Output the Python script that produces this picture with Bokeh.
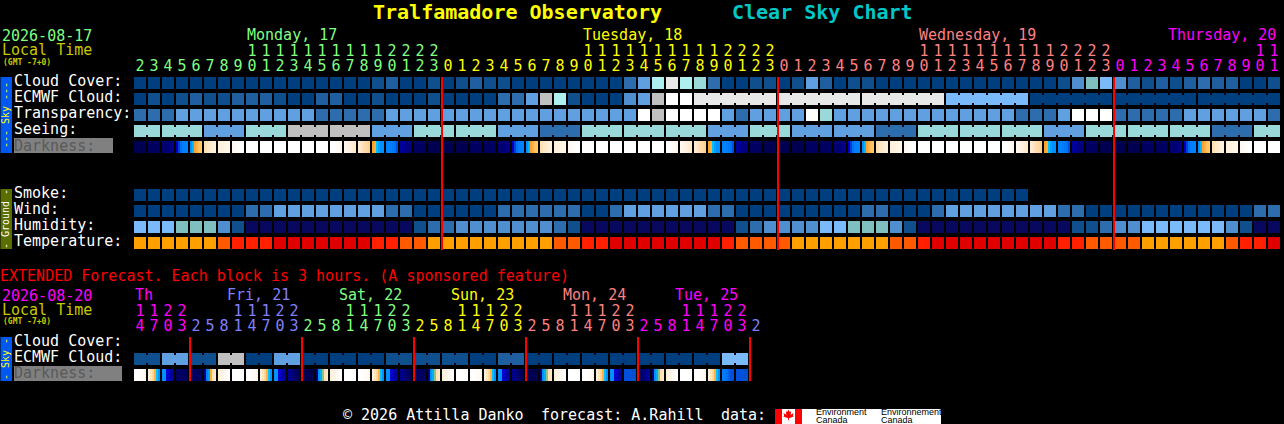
from math import pi
from bokeh.plotting import figure
from bokeh.models import Range1d
from bokeh.core.properties import value
from bokeh.embed import file_html
from bokeh.resources import INLINE

# ---------- chart values (palette classes) ----------
cloud = [0,0,0,0,0,0,0,0,0,0,0,0,0,0,0,0,0,1,2,0,0,1,
         0,1,2,1,1,0,0,0,0,0,0,0,0,3,5,9,11,9,8,3,0,0,1,1,0,1,5,2,0,1,
         1,0,0,0,0,0,0,0,0,0,0,0,0,0,1,4,7,6,4,2,1,2,1,2,3,2,2,0,0,1]
ecmwf = [0,1,0,1,2,1,1,2,2,2,1,0,0,2,2,0,0,1,0,0,0,1,
         0,0,0,0,3,3,5,10,9,1,0,0,0,4,5,10,12,12,
         11,11,11,11,11,11,11,11,11,11,11,11,11,11,11,11,11,11,
         6,6,6,6,6,6,0,0,0,0,0,0,0,0,0,0,0,0,0,0,0,0,0,0]
ecmwf_groups = [1,1,1,1,1,1,1,1,1,1,1,1,1,1,1,1,1,1,1,1,
                1,1,1,1,1,1,1,1,1,1,1,1,1,1,1,1,1,1,1,1,6,6,6,6,6,6,6]
transparency = [3,3,3,5,5,5,5,5,5,5,5,5,5,3,3,3,3,3,5,5,5,5,
                5,5,5,5,5,5,5,5,5,5,5,5,5,5,12,10,12,12,12,12,5,3,5,5,5,5,12,8,5,5,
                5,5,5,5,5,5,5,5,5,5,5,3,3,3,5,12,12,12,3,3,3,3,3,5,5,5,5,5,5,3]
seeing = [8,8,8,8,8,5,5,5,8,8,8,10,10,10,10,10,10,5,5,5,8,8,
          8,8,8,8,5,5,5,3,3,3,8,8,8,8,8,8,8,8,8,5,5,5,8,8,8,5,5,5,5,5,
          5,3,3,3,8,8,8,8,8,8,8,8,8,5,5,5,8,8,8,8,8,8,8,8,8,3,3,3,8,8]
seeing_groups = [2,3,3,3,3,3,3,3,3,3,3,3,3,3,3,3,3,3,3,3,3,3,3,3,3,3,3,2]
darkness = ("n a b c d e f g w w w w w w h j k l m o a n "
            "n n a a b c d e f g w w w w w w h j k l m o a n "
            "n n a a b c d e f g w w w w w w h j k l m o a n "
            "n n a a b c d e f g w w").split()
smoke = [0,0,0,0,0,0,0,0,0,0,0,0,0,0,0,0,0,0,0,0,0,0,0,0,0,0,0,0,0,0,0,0,
         0,0,0,0,0,0,0,0,0,0,0,0,0,0,0,0,0,0,0,0,0,0,0,0,0,0,0,0,0,0,0,0]
wind = [0,0,0,0,0,0,0,0,3,3,5,5,5,5,5,5,5,5,3,3,0,0,
        0,0,0,0,3,3,3,3,3,3,0,0,3,5,5,5,5,5,5,3,3,0,0,0,0,0,0,0,0,0,
        3,3,0,0,0,3,5,5,5,5,5,5,5,5,3,3,0,0,0,0,0,0,0,0,0,0,0,0,3,3]
humidity = [6,6,6,7,7,7,4,1,13,13,13,13,13,13,13,13,13,13,13,13,1,3,
            3,4,4,4,4,4,4,4,3,1,13,13,13,13,13,13,13,13,13,13,13,1,3,4,4,4,4,6,6,7,
            7,7,4,1,13,13,13,13,13,13,13,13,13,13,13,1,1,3,4,4,6,6,6,6,6,6,4,1,13,13]
temperature = [14,14,14,14,14,14,15,16,16,16,17,17,17,17,17,17,17,16,16,15,15,14,
               14,14,14,14,14,14,14,14,15,15,16,16,17,17,17,17,17,17,17,17,16,15,15,15,15,14,14,14,14,14,
               14,14,15,15,16,17,17,17,17,17,17,17,17,17,16,16,15,15,15,15,14,14,14,14,14,14,15,16,16,17]

units_main = "2345678901234567890123" "012345678901234567890123" "012345678901234567890123" "012345678901"
tens_main  = "        11111111112222" "          11111111112222" "          11111111112222" "          11"
ext_units  = "47032581470325814703258147032581470325814703" "2"
ext_tens   = "1122   11122   11122   11122   11122   11122 " " "
ext_ecmwf = [1,5,1,10,0,5,0,0,0,1,1,1,0,2,0,0,0,0,0,0,0,6]
ext_darkness = ("h p q a a r s w h p q t n u s w h p q t a u "
                "s w h p q t n u s w h p q v y u s w h p z v").split()

days = ["Monday, 17", "Tuesday, 18", "Wednesday, 19", "Thursday, 20"]
ext_days = ["Th", "Fri, 21", "Sat, 22", "Sun, 23", "Mon, 24", "Tue, 25"]

# ---------- styles ----------
SKY = ["#003F7F","#0F4F8E","#1F5F9F","#2D6CAD","#4F8FCF","#60A0E0","#7ABAFA","#80BFBF",
       "#99D9D9","#AFEFEF","#C0C0C0","#E8E8E8","#FFFFFF","#08085F",
       "#FFA000","#FF5A00","#FF2000","#E00000"]
DARK = {
 "n":["#000050"]*6, "a":["#000060"]*6,
 "b":["#00006A","#00006E","#000074","#00007A","#000080","#000088"],
 "c":["#0000C0","#0040D8","#0070F0","#0080FF","#0080FF","#0080FF"],
 "d":["#0090FF","#00B8FF","#FFA030","#FFB040","#FFC060","#FFC860"],
 "e":["#FFE0B0","#FFE4BC","#FFE8C4","#FFECD0","#FFF0D8","#FFF0D8"],
 "f":["#FFEFD8","#FFF1DC","#FFF3E0","#FFF4E4","#FFF6E8","#FFF6E8"],
 "g":["#FFF8F0","#FFFAF4","#FFFCF8","#FFFEFC","#FFFFFF","#FFFFFF"],
 "w":["#FFFFFF"]*6,
 "h":["#FFFFFF","#FFFFFF","#FFFEFC","#FFFCF8","#FFFAF4","#FFF7EE"],
 "j":["#FFF8F0","#FFF5EA","#FFF2E2","#FFEFDC","#FFECD4","#FFE8CC"],
 "k":["#FFEBD0","#FFE6C6","#FFE0BA","#FFDBAE","#FFD6A0","#FFD090"],
 "l":["#FFA030","#FFB030","#00C0FF","#00A0FF","#0090FF","#0090FF"],
 "m":["#0080FF","#0080FF","#0080FF","#0078F8","#0070F0","#0050E0"],
 "o":["#0000A0","#00009A","#000090","#000088","#000080","#000078"],
 "p":["#FFF0D8","#FFE4BC","#FFD8A0","#FFB040","#00C0FF","#0090FF"],
 "q":["#0090FF","#0090FF","#0000D0","#0000C0","#0000A8","#0000A0"],
 "r":["#000090","#0080FF","#00A0FF","#FFB030","#FFE0B0","#FFE8C8"],
 "s":["#FFF0D8","#FFF3E0","#FFF6E8","#FFF9F0","#FFFCF8","#FFFFFF"],
 "t":["#000090","#000084","#000078","#00006C","#000060","#000058"],
 "u":["#000070","#0090FF","#00B0FF","#90C080","#FFE0B0","#FFE8C8"],
 "v":["#0050E0","#0050E0","#0050DC","#0050D8","#0050D0","#0050D0"],
 "y":["#000058","#000060","#00006C","#000078","#000090","#0000A0"],
 "z":["#0080FF","#0078F8","#0070F0","#0060E8","#0050E0","#0050E0"],
}
GREEN, YELLOW, SALMON, MAGENTA, BLUE = "#80FF80", "#FFFF00", "#FF8080", "#FF00FF", "#8080FF"
OLIVE_TEXT = "#C8C800"
MONO = "DejaVu Sans Mono"
LEFT, PITCH, CELL = 134, 14, 12
BASE_SHIFT = {8: 3, 9: 4, 10: 4, 15: 6, 20: 8}

def col(px):
    return (px - LEFT) / PITCH

# the SVG drawing sits half a pixel off; the half-pixel ranges put every edge on a whole pixel
p = figure(width=1284, height=424, x_range=Range1d(col(0.5), col(1284.5)), y_range=Range1d(424.5, 0.5),
           x_axis_type=None, y_axis_type=None, toolbar_location=None, output_backend="svg",
           min_border=0, outline_line_color=None, background_fill_color="#000000",
           border_fill_color="#000000",
           styles={"position": "fixed", "left": "0px", "top": "0px", "background-color": "#000000"})
p.grid.visible = False

def boxes(left, right, top, bottom, color):
    p.quad(left=left, right=right, top=top, bottom=bottom, fill_color=color, line_color=None)

W = CELL / PITCH
def row(values, top, groups=None):
    n = len(values)
    boxes(list(range(n)), [i + W for i in range(n)], [top]*n, [top + CELL]*n, [SKY[v] for v in values])
    if groups:
        start = 0; l = []; r = []; c = []
        for g in groups:
            for i in range(start, start + g - 1):
                l.append(i + W); r.append(i + 1); c.append(SKY[values[i]])
            start += g
        boxes(l, r, [top + 2]*len(l), [top + CELL - 2]*len(l), c)

def dark_row(kinds, top):
    # each later strip paints over the earlier one, so no seams show
    l, r, c = [], [], []
    for i, k in enumerate(kinds):
        for s, colour in enumerate(DARK[k]):
            l.append(i + s * 2 / PITCH); r.append(i + W); c.append(colour)
    boxes(l, r, [top]*len(l), [top + CELL]*len(l), c)

def text(x, y, s, color="#FFFFFF", size=15, style="normal", align="left", font=MONO, angle=0):
    xs = x if isinstance(x, list) else [col(x)]
    ys = y if isinstance(y, list) else [y]
    ss = s if isinstance(s, list) else [s]
    cs = color if isinstance(color, list) else [color] * len(xs)
    if angle == 0:
        ys = [v - BASE_SHIFT[size] for v in ys]
    else:
        xs = [v - BASE_SHIFT[size] / PITCH for v in xs]
    p.text(x=xs, y=ys, text=ss, text_color=cs, text_font=value(font), text_font_size=f"{size}px",
           text_font_style=style, text_align=align, text_baseline="alphabetic", angle=angle)

def digits(chars, base, colours):
    idx = [i for i, ch in enumerate(chars) if ch != " "]
    text([i + W / 2 for i in idx], [base]*len(idx), [chars[i] for i in idx], [colours[i] for i in idx], align="center")

# ---------- main chart ----------
row(cloud, 77); row(ecmwf, 93, ecmwf_groups); row(transparency, 109); row(seeing, 125, seeing_groups)
dark_row(darkness, 141)
row(smoke, 189); row(wind, 205); row(humidity, 221); row(temperature, 237)

day_colours = [GREEN]*22 + [YELLOW]*24 + [SALMON]*24 + [MAGENTA]*12
digits(tens_main, 56, day_colours)
digits(units_main, 71, day_colours)
for d, x, c in zip(days, [247, 583, 919, 1168], [GREEN, YELLOW, SALMON, MAGENTA]):
    text(x, 41, d, c)

text(373, 20, "Tralfamadore Observatory", YELLOW, 20, "bold")
text(732, 20, "Clear Sky Chart", "#00C8C8", 20, "bold")
text(2, 41, "2026-08-17", GREEN)
text(2, 56, "Local Time", OLIVE_TEXT)
text(3, 65, "(GMT -7+0)", OLIVE_TEXT, 8, "bold")

for label, base in zip(["Cloud Cover:", "ECMWF Cloud:", "Transparency:", "Seeing:"], [87, 103, 119, 135]):
    text(14, base, label)
boxes([col(14)], [col(113)], [138], [153], "#808080")
text(14, 152, "Darkness:", "#5A5A5A")
for label, base in zip(["Smoke:", "Wind:", "Humidity:", "Temperature:"], [199, 215, 231, 247]):
    text(14, base, label)

boxes([col(0)], [col(12)], [77], [153], "#0058F0")
boxes([col(0)], [col(12)], [189], [249], "#5A6E00")
text(9.5, 115, "--- Sky ---", YELLOW, 10, align="center", angle=pi/2)
text(9.5, 219, "- Ground -", "#FFFFFF", 10, align="center", angle=pi/2)

midnights = [22, 46, 70]
boxes([m - 1/PITCH for m in midnights], [m + 1/PITCH for m in midnights], [77]*3, [250]*3, "#FF0000")

# ---------- extended forecast ----------
text(0, 282, "EXTENDED Forecast. Each block is 3 hours. (A sponsored feature)", "#FF0000")
text(2, 301, "2026-08-20", MAGENTA)
text(2, 316, "Local Time", OLIVE_TEXT)
text(3, 324, "(GMT -7+0)", OLIVE_TEXT, 8, "bold")
for d, x, c in zip(ext_days, [135, 227, 339, 451, 563, 675], [MAGENTA, BLUE, GREEN, YELLOW, SALMON, MAGENTA]):
    text(x, 301, d, c)
ext_colours = [MAGENTA]*4 + [BLUE]*8 + [GREEN]*8 + [YELLOW]*8 + [SALMON]*8 + [MAGENTA]*8 + [BLUE]
digits(ext_tens, 316, ext_colours)
digits(ext_units, 331, ext_colours)

row([v for v in ext_ecmwf for _ in (0, 1)], 353, [2]*len(ext_ecmwf))
dark_row(ext_darkness, 369)
text(14, 347, "Cloud Cover:")
text(14, 363, "ECMWF Cloud:")
boxes([col(14)], [col(122)], [366], [381], "#808080")
text(14, 379, "Darkness:", "#5A5A5A")
boxes([col(0)], [col(12)], [337], [381], "#0058F0")
text(9.5, 359, "- Sky -", YELLOW, 10, align="center", angle=pi/2)
ext_mid = [4, 12, 20, 28, 36, 44]
boxes([m - 1/PITCH for m in ext_mid], [m + 1/PITCH for m in ext_mid], [337]*6, [381]*6, "#FF0000")

# ---------- footer ----------
text(343, 421, "\u00a9 2026 Attilla Danko")
text(541, 421, "forecast: A.Rahill")
text(721, 421, "data:")
boxes([col(802)], [col(941)], [409], [424], "#FFFFFF")
boxes([col(782)], [col(795)], [409], [424], "#FFFFFF")
boxes([col(775), col(795)], [col(782), col(802)], [409, 409], [424, 424], "#FF0000")
leaf_x = [0, 1.2, 2.6, 2.2, 5, 4.4, 5.2, 1, 0.6, 0]
leaf_y = [-6, -3.5, -4.2, -0.8, -2.6, 0, 1, 2.6, 2.6, 6]
lx = leaf_x + [-v for v in reversed(leaf_x)]
ly = leaf_y + list(reversed(leaf_y))
p.patch([col(788.5 + v) for v in lx], [415.5 + v for v in ly], fill_color="#FF0000", line_color=None)
for x, top in [(816, "Environment"), (881, "Environnement")]:
    text(x, 416, top, "#000000", 9, font="Liberation Sans")
    text(x, 424, "Canada", "#000000", 9, font="Liberation Sans")

open("out.html", "w").write(file_html(p, INLINE))
